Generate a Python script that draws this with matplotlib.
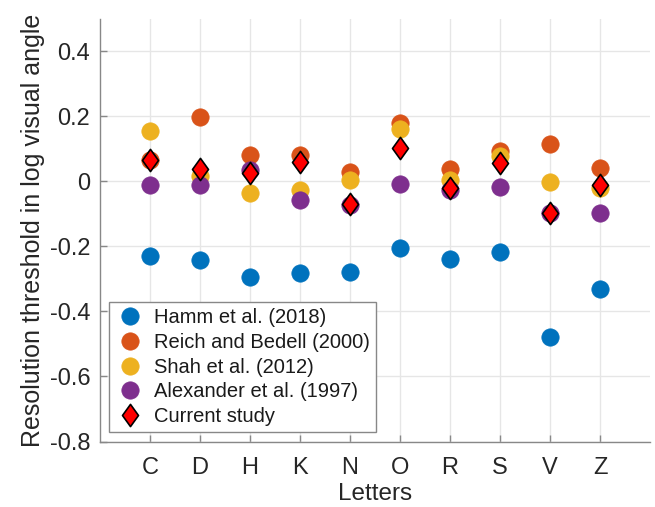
import matplotlib
matplotlib.use("Agg")
import matplotlib.pyplot as plt
from matplotlib.path import Path

letters = ["C", "D", "H", "K", "N", "O", "R", "S", "V", "Z"]
hamm = [-0.230, -0.241, -0.294, -0.282, -0.279, -0.205, -0.238, -0.219, -0.479, -0.330]
reich = [0.065, 0.198, 0.082, 0.082, 0.029, 0.180, 0.037, 0.093, 0.114, 0.042]
shah = [0.154, 0.015, -0.036, -0.028, 0.003, 0.160, 0.003, 0.078, -0.004, -0.020]
alexander = [-0.013, -0.013, 0.034, -0.058, -0.074, -0.008, -0.026, -0.017, -0.097, -0.097]
current = [0.065, 0.037, 0.024, 0.059, -0.069, 0.103, -0.020, 0.056, -0.097, -0.011]

series = [
    ("Hamm et al. (2018)", hamm, "#0072BD"),
    ("Reich and Bedell (2000)", reich, "#D95319"),
    ("Shah et al. (2012)", shah, "#EDB120"),
    ("Alexander et al. (1997)", alexander, "#7E2F8E"),
]

plt.rcParams['font.family'] = ['Liberation Sans', 'DejaVu Sans']

fig = plt.figure(figsize=(6.55, 5.07), dpi=100)
ax = fig.add_axes([100/655, (507-441.5)/507, 550/655, 423/507])

x = list(range(1, len(letters) + 1))
for name, vals, col in series:
    ax.plot(x, vals, linestyle='none', marker='o', markersize=12.5,
            markerfacecolor=col, markeredgecolor=col, markeredgewidth=0.5, label=name)

diamond = Path([(0, 1), (0.72, 0), (0, -1), (-0.72, 0), (0, 1)],
               [Path.MOVETO, Path.LINETO, Path.LINETO, Path.LINETO, Path.CLOSEPOLY])
ax.plot(x, current, linestyle='none', marker=diamond, markersize=16,
        markerfacecolor='#FF0000', markeredgecolor='black', markeredgewidth=1.2,
        label="Current study")

ax.set_xlim(0, 11)
ax.set_ylim(-0.8, 0.5)
ax.set_xticks(x)
ax.set_xticklabels(letters)
ax.set_yticks([-0.8, -0.6, -0.4, -0.2, 0, 0.2, 0.4])
ax.set_yticklabels(["-0.8", "-0.6", "-0.4", "-0.2", "0", "0.2", "0.4"])

ax.grid(True, color='#e6e6e6', linewidth=1.0)
ax.set_axisbelow(True)
for s in ['top', 'right']:
    ax.spines[s].set_visible(False)
for s in ['left', 'bottom']:
    ax.spines[s].set_color('#888888')
    ax.spines[s].set_linewidth(1.0)
ax.tick_params(direction='in', length=5, width=1.0, color='#888888',
               labelcolor='#262626', labelsize=17)
ax.tick_params(axis='x', pad=11)
ax.tick_params(axis='y', pad=7)

ax.set_xlabel("Letters", fontsize=17.5, color='#262626', labelpad=3)
ax.set_ylabel("Resolution threshold in log visual angle", fontsize=18, color='#262626', labelpad=3)

leg = ax.legend(loc='lower left', bbox_to_anchor=(9/550, 9.5/423), fontsize=14.5,
                frameon=True, fancybox=False, edgecolor='#888888', framealpha=1,
                borderpad=0.3, labelspacing=0.28, handletextpad=0.45, handlelength=1.5,
                borderaxespad=0)
leg.get_frame().set_linewidth(1.0)
for t in leg.get_texts():
    t.set_color('#1a1a1a')

fig.savefig("out.png", dpi=100)
